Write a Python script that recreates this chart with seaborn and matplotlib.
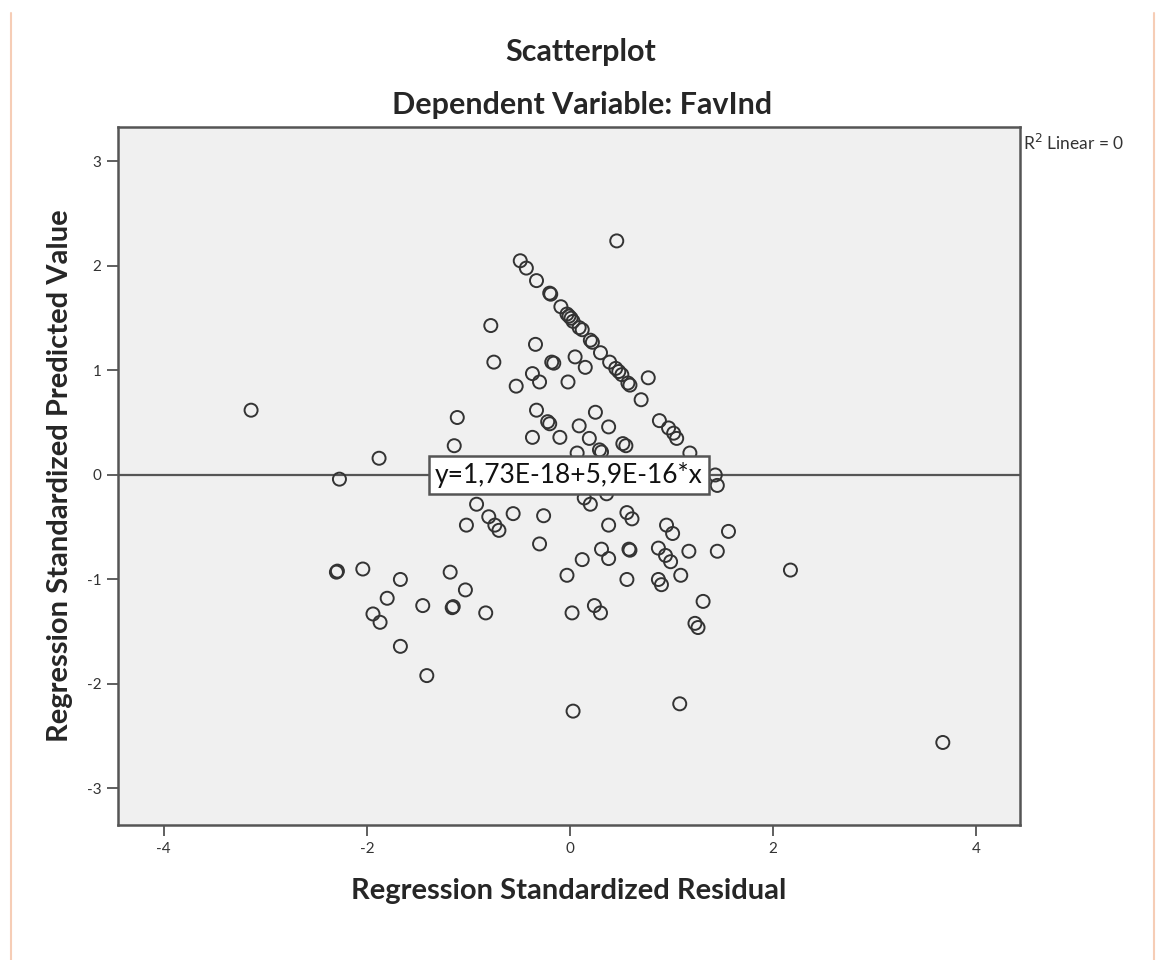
import numpy as np
import pandas as pd
import matplotlib
matplotlib.use("Agg")
import matplotlib.pyplot as plt
from matplotlib.lines import Line2D
import seaborn as sns

# Regression standardized residual (x) and predicted value (y)
resid = [-0.49, -0.43, -0.33, -0.20, -0.19, -0.09, -0.03, -0.01, 0.01, 0.03,
         0.09, 0.12, 0.20, 0.22, 0.30, 0.39, 0.45, 0.48, 0.51, 0.57,
         0.59, 0.70, 0.88, 0.97, 1.02, 1.05, 1.18, 1.43, 1.45,
         0.46, -0.78, -0.75, -0.34, -0.18, -0.16, 0.05, 0.15, -0.37, -0.30,
         -0.53, -0.02, 0.77,
         -1.11, -1.14, -0.33, -0.22, -0.20, -0.37, -0.10, 0.25, 0.09, 0.38,
         0.19, 0.29, 0.31, 0.52, 0.55, 0.07, 0.12, 0.25, 0.40, -0.05,
         -3.14, -1.88, -2.27, -2.30, -2.29, -2.04, -1.67, -1.80, -1.45, -1.94,
         -1.87, -1.67, -1.41,
         -0.92, -1.02, -0.80, -0.74, -0.70, -0.56, -0.26, -0.30, 0.14, 0.20,
         0.36, 0.56, 0.61, 0.38, 0.31, 0.38, 0.58, 0.59, 0.12, -0.03,
         0.56, 0.95, 1.01, 1.56, 0.87, 0.94, 0.99, 1.17, 1.45, 1.09,
         0.87, 0.90, 1.31, 1.23, 1.26, -1.18, -1.03, -1.16, -1.15, -0.83,
         0.02, 0.24, 0.30, 0.03, 1.08, 2.17, 3.67]
pred = [2.05, 1.98, 1.86, 1.74, 1.73, 1.61, 1.54, 1.52, 1.50, 1.47,
        1.41, 1.39, 1.29, 1.27, 1.17, 1.08, 1.02, 0.99, 0.96, 0.88,
        0.86, 0.72, 0.52, 0.45, 0.40, 0.35, 0.21, 0.00, -0.10,
        2.24, 1.43, 1.08, 1.25, 1.08, 1.07, 1.13, 1.03, 0.97, 0.89,
        0.85, 0.89, 0.93,
        0.55, 0.28, 0.62, 0.51, 0.49, 0.36, 0.36, 0.60, 0.47, 0.46,
        0.35, 0.24, 0.22, 0.30, 0.28, 0.21, 0.05, -0.02, 0.08, 0.02,
        0.62, 0.16, -0.04, -0.93, -0.92, -0.90, -1.00, -1.18, -1.25, -1.33,
        -1.41, -1.64, -1.92,
        -0.28, -0.48, -0.40, -0.48, -0.53, -0.37, -0.39, -0.66, -0.22, -0.28,
        -0.18, -0.36, -0.42, -0.48, -0.71, -0.80, -0.71, -0.72, -0.81, -0.96,
        -1.00, -0.48, -0.56, -0.54, -0.70, -0.77, -0.83, -0.73, -0.73, -0.96,
        -1.00, -1.05, -1.21, -1.42, -1.46, -0.93, -1.10, -1.27, -1.26, -1.32,
        -1.32, -1.25, -1.32, -2.26, -2.19, -0.91, -2.56]

# fit line reported by SPSS
intercept = 1.73e-18
slope = 5.9e-16
fit_label = "y=1,73E-18+5,9E-16*x"
r2_label = "R$^2$ Linear = 0"

xticks = [-4, -2, 0, 2, 4]
yticks = [-3, -2, -1, 0, 1, 2, 3]

df = pd.DataFrame({"resid": resid, "pred": pred})

sns.set_style("white")
plt.rcParams["font.family"] = ["Lato", "DejaVu Sans"]
plt.rcParams["axes.unicode_minus"] = False

fig = plt.figure(figsize=(11.57, 9.6), dpi=100)
ax = fig.add_axes([0.102, 0.1406, 0.7796, 0.7271])
ax.set_facecolor("#f0f0f0")

sns.scatterplot(data=df, x="resid", y="pred", ax=ax, marker="o", s=88,
                facecolors="none", edgecolor="#333333", linewidth=1.4,
                zorder=3)

# fit line
ax.axline((0, intercept), slope=slope, color="#555555", lw=1.6, zorder=2)

ax.set_xlim(-4.45, 4.43)
ax.set_ylim(-3.35, 3.33)
ax.set_xticks(xticks)
ax.set_yticks(yticks)
ax.tick_params(axis="both", direction="out", length=8, width=1.2,
               color="#444444", labelsize=11, labelcolor="#333333",
               bottom=True, left=True, pad=4)
for sp in ax.spines.values():
    sp.set_color("#555555")
    sp.set_linewidth(1.8)

ax.set_xlabel("Regression Standardized Residual", fontsize=21,
              fontweight="bold", labelpad=16)
ax.set_ylabel("Regression Standardized Predicted Value", fontsize=21,
              fontweight="bold", labelpad=10)

ax.text(-0.01, 0.0, fit_label, fontsize=19, ha="center", va="center",
        color="#111111", zorder=5,
        bbox=dict(boxstyle="square,pad=0.22", fc="white", ec="#555555", lw=1.8))

fig.text(0.502, 0.946, "Scatterplot", fontsize=22, fontweight="bold",
         ha="center", va="center")
fig.text(0.503, 0.891, "Dependent Variable: FavInd", fontsize=22,
         fontweight="bold", ha="center", va="center")
fig.text(0.884, 0.851, r2_label, fontsize=12.5, ha="left", va="center",
         color="#333333")

# faint page border lines
fig.add_artist(Line2D([0.0095, 0.0095], [0.0, 0.986], color="#f6cdb6", lw=1.5))
fig.add_artist(Line2D([0.9975, 0.9975], [0.0, 0.986], color="#f6cdb6", lw=1.5))

fig.savefig("out.png", dpi=100)
